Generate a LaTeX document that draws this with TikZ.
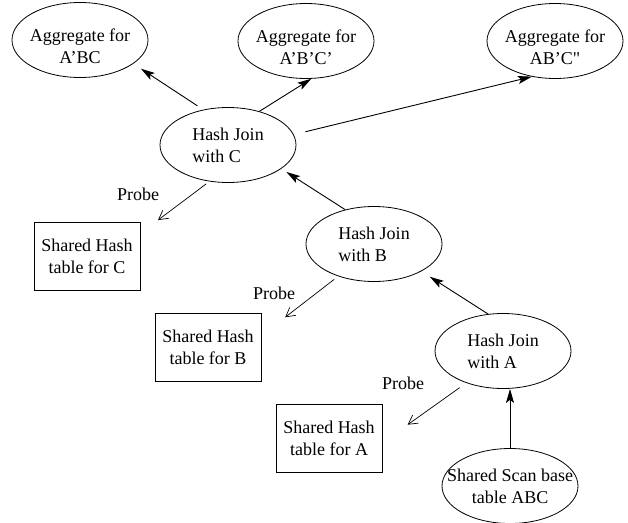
\documentclass[tikz,border=0pt]{standalone}
\usepackage{fontspec}
\setmainfont{Liberation Serif}
\usetikzlibrary{arrows.meta,shapes.geometric}

\begin{document}
\begin{tikzpicture}[
    x=1pt, y=-1pt,
    font=\fontsize{18}{22}\selectfont,
    op/.style={draw, line width=0.8pt, ellipse, minimum width=136pt, minimum height=75pt, inner xsep=-16pt, inner ysep=0pt, align=center},
    aggop/.style={op, text height=47pt},
    tbl/.style={draw, line width=0.8pt, minimum width=106pt, minimum height=68pt, align=center},
    lbl/.style={inner sep=0pt},
    arr/.style={-{Stealth[length=14pt,width=8pt,inset=3pt]}, line width=0.9pt},
    prb/.style={-{Straight Barb[length=9pt,width=10pt]}, line width=0.7pt}
  ]
    \useasboundingbox (0,0) rectangle (628,522);
    % aggregates on top
    \node[aggop] (agg1) at (80,40) {Aggregate for\\A'BC};
    \node[aggop] (agg2) at (306,41) {Aggregate for\\A'B'C'};
    \node[aggop] (agg3) at (555,41) {Aggregate for\\AB'C\textquotedbl};
    % chain of hash joins
    \node[op, align=left] (hjc) at (228,145) {Hash Join\\with C};
    \node[op, align=left] (hjb) at (374,244) {Hash Join\\with B};
    \node[op, align=left] (hja) at (503,351) {Hash Join\\with A};
    \node[op] (scan) at (510,486) {Shared Scan base\\table ABC};
    % shared hash tables
    \node[tbl] (htc) at (87,256) {Shared Hash\\table for C};
    \node[tbl] (htb) at (208,347) {Shared Hash\\table for B};
    \node[tbl] (hta) at (329,438) {Shared Hash\\table for A};
    \node[lbl] (prc) at (138,194) {Probe};
    \node[lbl] (prb) at (274,293) {Probe};
    \node[lbl] (pra) at (403,383) {Probe};
    \draw[arr, shorten <=7pt, shorten >=9pt] (hjc.125) -- (agg1.336);
    \draw[arr] (hjc.47) -- (agg2.278);
    \draw[arr, shorten <=12pt] (hjc.9) -- (agg3.237);
    \draw[arr, shorten >=6pt] (hjb.130) -- (hjc.336);
    \draw[arr, shorten >=10pt] (hja.112) -- (hjb.330);
    \draw[arr] (scan.north) -- (scan.north |- hja.south);
    \draw[prb, shorten <=4pt, shorten >=22pt] (hjc.243) -- (htc.23);
    \draw[prb, shorten <=5pt, shorten >=30pt] (hjb.222) -- (htb.12);
    \draw[prb, shorten <=8pt, shorten >=31pt] (hja.221) -- (hta.355);
  \end{tikzpicture}
\end{document}
